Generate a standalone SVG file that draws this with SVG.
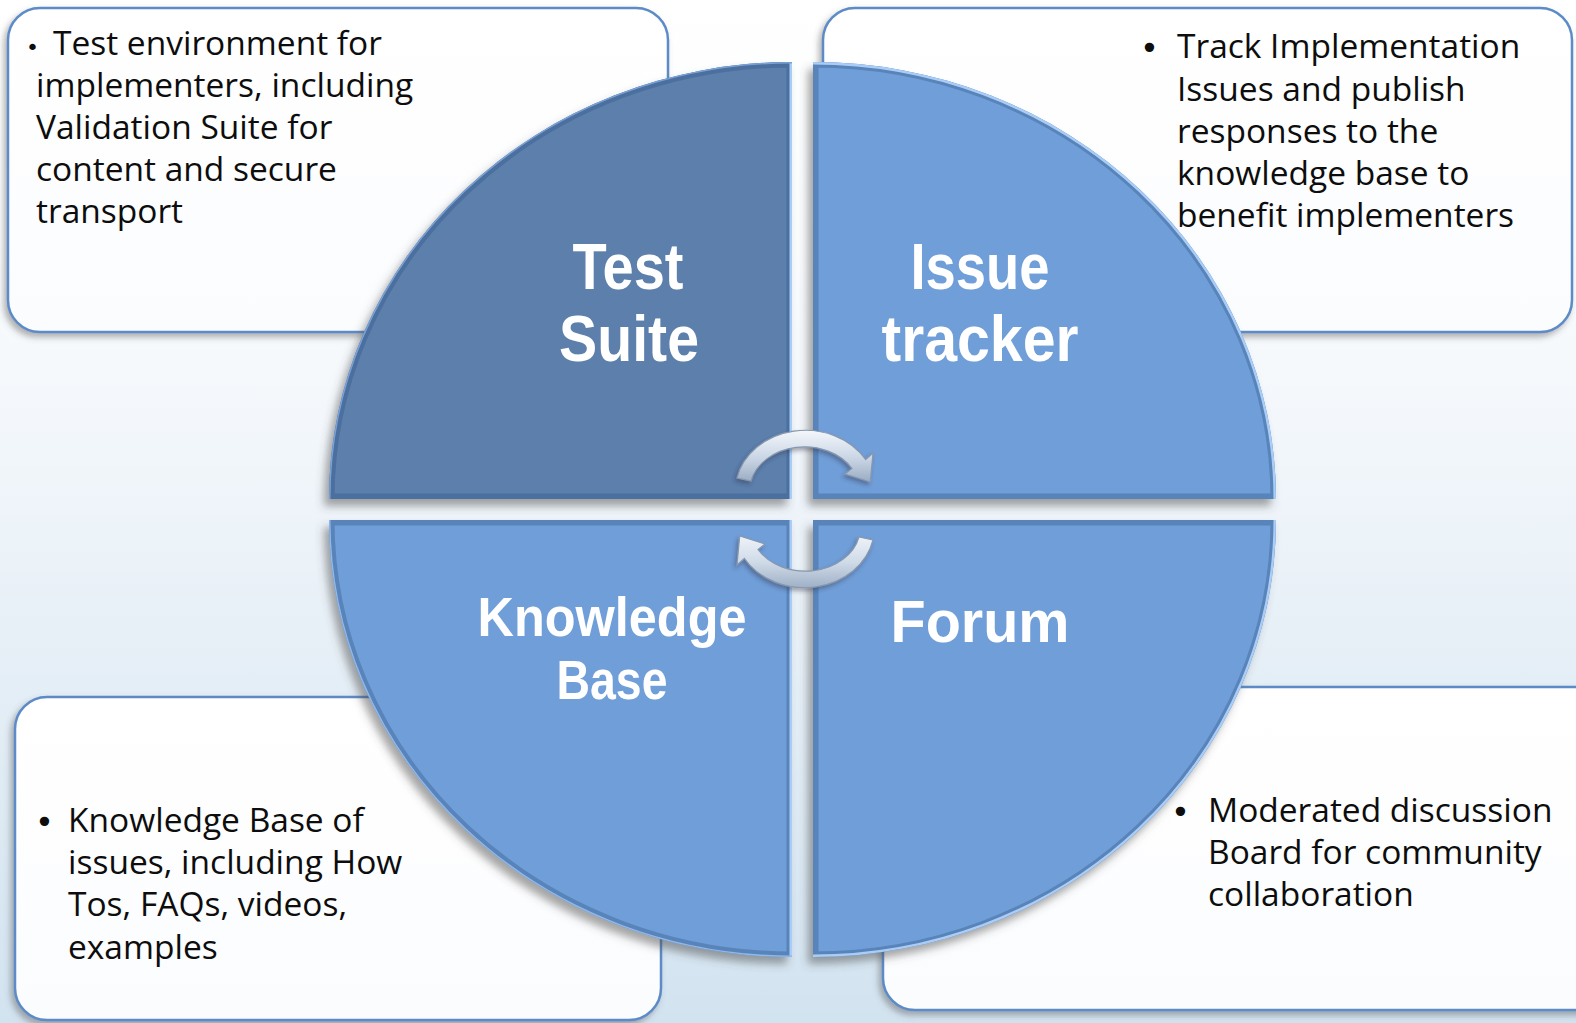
<svg xmlns="http://www.w3.org/2000/svg" width="1576" height="1023" viewBox="0 0 1576 1023">
<defs>
<linearGradient id="bg" x1="0" y1="0" x2="0" y2="1">
<stop offset="0" stop-color="#ffffff"/>
<stop offset="0.35" stop-color="#f6f9fc"/>
<stop offset="1" stop-color="#d2e3f0"/>
</linearGradient>
<linearGradient id="boxfill" x1="0" y1="0" x2="0" y2="1">
<stop offset="0" stop-color="#ffffff"/>
<stop offset="1" stop-color="#fbfcfe"/>
</linearGradient>
<linearGradient id="arrowfill" x1="0" y1="0" x2="0" y2="1">
<stop offset="0" stop-color="#f4f7fb"/>
<stop offset="0.55" stop-color="#c9d5e4"/>
<stop offset="1" stop-color="#9aabc2"/>
</linearGradient>
<linearGradient id="arrowfill2" x1="0" y1="0" x2="0" y2="1">
<stop offset="0" stop-color="#eef3f9"/>
<stop offset="0.5" stop-color="#d0dbe8"/>
<stop offset="1" stop-color="#9fb0c6"/>
</linearGradient>
<filter id="qsh" x="-10%" y="-10%" width="120%" height="120%">
<feDropShadow dx="-5" dy="7" stdDeviation="4" flood-color="#4a4a4a" flood-opacity="0.5"/>
</filter>
<filter id="bsh" x="-10%" y="-10%" width="120%" height="120%">
<feDropShadow dx="-3" dy="4" stdDeviation="3" flood-color="#555" flood-opacity="0.45"/>
</filter>
<filter id="ash" x="-20%" y="-20%" width="140%" height="140%">
<feDropShadow dx="-2" dy="3" stdDeviation="2" flood-color="#334" flood-opacity="0.4"/>
</filter>
<clipPath id="cTL"><path d="M792,499 L329,499 A463,437 0 0 1 792,62 Z"/></clipPath>
<clipPath id="cTR"><path d="M813,499 L813,62 A463,437 0 0 1 1276,499 Z"/></clipPath>
<clipPath id="cBL"><path d="M792,520 L792,957 A463,437 0 0 1 329,520 Z"/></clipPath>
<clipPath id="cBR"><path d="M813,520 L1276,520 A463,437 0 0 1 813,957 Z"/></clipPath>
<style>
.box{fill:url(#boxfill);stroke:#5b8bc7;stroke-width:2.5;filter:url(#bsh)}
.txt{font-family:"Open Sans","Noto Sans","DejaVu Sans",sans-serif;font-size:33.5px;fill:#0d0d0d}
.bul{font-family:"DejaVu Sans",sans-serif;fill:#0d0d0d}
.lbl{font-family:"Liberation Sans",Arial,sans-serif;font-weight:bold;fill:#ffffff;text-anchor:middle}
.bevel{fill:none;stroke:#2c5283;stroke-opacity:0.35;stroke-width:11}
.hl{fill:none;stroke:#a9cdf6;stroke-width:5}
.arrow{fill:url(#arrowfill);stroke:#8797ae;stroke-width:1.2;filter:url(#ash)}
</style>
</defs>
<rect x="0" y="0" width="1576" height="1023" fill="url(#bg)"/>

<g id="box-test-suite">
<rect class="box" x="8" y="8" width="660" height="324" rx="32"/>
<text class="bul" x="26" y="55" font-size="22">•</text>
<text class="txt"><tspan x="53" y="55">Test environment for</tspan><tspan x="36" y="97">implementers, including</tspan><tspan x="36" y="139">Validation Suite for</tspan><tspan x="36" y="181">content and secure</tspan><tspan x="36" y="223">transport</tspan></text>
</g>

<g id="box-issue-tracker">
<rect class="box" x="823" y="8" width="749" height="324" rx="32"/>
<text class="bul" x="1140" y="59" font-size="32">•</text>
<text class="txt"><tspan x="1177" y="58">Track Implementation</tspan><tspan x="1177" y="101">Issues and publish</tspan><tspan x="1177" y="143">responses to the</tspan><tspan x="1177" y="185">knowledge base to</tspan><tspan x="1177" y="227">benefit implementers</tspan></text>
</g>

<g id="box-knowledge-base">
<rect class="box" x="15" y="697" width="646" height="323" rx="32"/>
<text class="bul" x="35" y="833" font-size="32">•</text>
<text class="txt"><tspan x="68" y="832">Knowledge Base of</tspan><tspan x="68" y="874">issues, including How</tspan><tspan x="68" y="916">Tos, FAQs, videos,</tspan><tspan x="68" y="959">examples</tspan></text>
</g>

<g id="box-forum">
<rect class="box" x="883" y="687" width="730" height="323" rx="32"/>
<text class="bul" x="1171" y="823" font-size="32">•</text>
<text class="txt"><tspan x="1208" y="822">Moderated discussion</tspan><tspan x="1208" y="864">Board for community</tspan><tspan x="1208" y="906">collaboration</tspan></text>
</g>

<g id="quadrant-test-suite">
<path d="M792,499 L329,499 A463,437 0 0 1 792,62 Z" fill="#5b7fac" filter="url(#qsh)"/>
<g clip-path="url(#cTL)">
<path class="bevel" d="M792,499 L329,499 A463,437 0 0 1 792,62 Z"/>
<path class="hl" d="M792,62 L792,499" stroke="#8fb4e2"/>
<path d="M329,499 A463,437 0 0 1 792,62" fill="none" stroke="#7aa2d6" stroke-width="3"/>
</g>
<text class="lbl" font-size="64"><tspan x="628" y="289" textLength="111" lengthAdjust="spacingAndGlyphs">Test</tspan><tspan x="629" y="361" textLength="140" lengthAdjust="spacingAndGlyphs">Suite</tspan></text>
</g>

<g id="quadrant-issue-tracker">
<path d="M813,499 L813,62 A463,437 0 0 1 1276,499 Z" fill="#6f9ed8" filter="url(#qsh)"/>
<g clip-path="url(#cTR)">
<path class="bevel" d="M813,499 L813,62 A463,437 0 0 1 1276,499 Z"/>
<path class="hl" d="M813,62 A463,437 0 0 1 1276,499"/>
</g>
<text class="lbl" font-size="64"><tspan x="980" y="289" textLength="139" lengthAdjust="spacingAndGlyphs">Issue</tspan><tspan x="980" y="361" textLength="197" lengthAdjust="spacingAndGlyphs">tracker</tspan></text>
</g>

<g id="quadrant-knowledge-base">
<path d="M792,520 L792,957 A463,437 0 0 1 329,520 Z" fill="#6f9ed8" filter="url(#qsh)"/>
<g clip-path="url(#cBL)">
<path class="bevel" d="M792,520 L792,957 A463,437 0 0 1 329,520 Z"/>
<path class="hl" d="M792,520 L792,957"/>
<path d="M792,957 A463,437 0 0 1 329,520" fill="none" stroke="#8fb8ec" stroke-width="3"/>
</g>
<text class="lbl" font-size="55"><tspan x="612" y="636" textLength="269" lengthAdjust="spacingAndGlyphs">Knowledge</tspan><tspan x="612" y="699" textLength="111" lengthAdjust="spacingAndGlyphs">Base</tspan></text>
</g>

<g id="quadrant-forum">
<path d="M813,520 L1276,520 A463,437 0 0 1 813,957 Z" fill="#6f9ed8" filter="url(#qsh)"/>
<g clip-path="url(#cBR)">
<path class="bevel" d="M813,520 L1276,520 A463,437 0 0 1 813,957 Z"/>
<path class="hl" d="M1276,520 A463,437 0 0 1 813,957"/>
</g>
<text class="lbl" x="980" y="642" font-size="60" textLength="179" lengthAdjust="spacingAndGlyphs">Forum</text>
</g>

<g id="connectors">
<path class="arrow" d="M737,478 A70,60 0 0 1 865.6,459.5 L873,453 L870.3,482 L845,474 L852,468.5 A55,44 0 0 0 751,481 Z"/>
<path class="arrow" style="fill:url(#arrowfill2)" d="M873,540 A70,60 0 0 1 744.4,558.5 L737,565 L739.7,536 L765,544 L758,549.5 A55,44 0 0 0 859,537 Z"/>
</g>
</svg>
